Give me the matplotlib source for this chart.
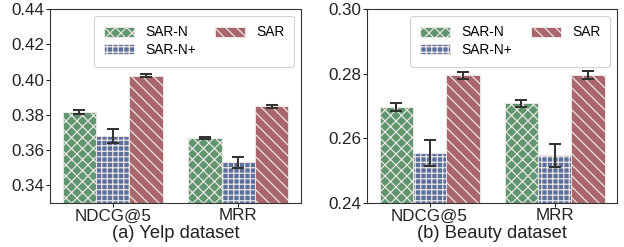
import numpy as np
import matplotlib
matplotlib.use("Agg")
import matplotlib.pyplot as plt

plt.rcParams["font.family"] = ["Liberation Sans", "DejaVu Sans"]
plt.rcParams["hatch.color"] = "white"
plt.rcParams["hatch.linewidth"] = 1.3

metrics = ["NDCG@5", "MRR"]
methods = ["SAR-N", "SAR-N+", "SAR"]

yelp_mean = {"SAR-N": [0.3815, 0.3668], "SAR-N+": [0.3680, 0.3530], "SAR": [0.4022, 0.3848]}
yelp_err = {"SAR-N": [0.0010, 0.0006], "SAR-N+": [0.0038, 0.0030], "SAR": [0.0009, 0.0010]}
beauty_mean = {"SAR-N": [0.2697, 0.2708], "SAR-N+": [0.2555, 0.2547], "SAR": [0.2795, 0.2796]}
beauty_err = {"SAR-N": [0.0012, 0.0012], "SAR-N+": [0.0040, 0.0035], "SAR": [0.0010, 0.0012]}

colors = {"SAR-N": "#5f966e", "SAR-N+": "#5b719b", "SAR": "#a9676b"}
hatches = {"SAR-N": "xx", "SAR-N+": "++", "SAR": "\\\\"}

dpi = 66
fig = plt.figure(figsize=(624 / dpi, 247 / dpi), dpi=dpi)
ax1 = fig.add_axes([50 / 624, 1 - 203 / 247, 251 / 624, 194 / 247])
ax2 = fig.add_axes([367 / 624, 1 - 203 / 247, 250 / 624, 194 / 247])


def draw(ax, means, errs, ylim, yticks, title):
    x = np.arange(len(metrics))
    w = 0.8 / 3
    for i, m in enumerate(methods):
        ax.bar(x + (i - 1) * w, means[m], w, yerr=errs[m], color=colors[m],
               edgecolor="#f0e8e8", linewidth=1.0, hatch=hatches[m], label=m,
               error_kw=dict(ecolor="#333333", elinewidth=2.2, capsize=7, capthick=2.2))
    ax.set_xlim(-0.5, 1.5)
    ax.set_ylim(*ylim)
    ax.set_yticks(yticks)
    ax.set_yticklabels(["%.2f" % t for t in yticks])
    ax.set_xticks(x)
    ax.set_xticklabels(metrics)
    ax.tick_params(labelsize=18.5, colors="#222222", length=4, width=1.2, pad=2)
    for s in ax.spines.values():
        s.set_color("#333333")
        s.set_linewidth(1.2)
    ax.set_xlabel(title, fontsize=20, color="#222222", labelpad=2)
    ax.legend(loc="upper right", ncol=2, fontsize=15, handlelength=2.2,
              handletextpad=0.8, columnspacing=1.4, labelspacing=0.25,
              borderpad=0.7, borderaxespad=0.5, edgecolor="#cccccc", framealpha=1)


draw(ax1, yelp_mean, yelp_err, (0.33, 0.44), [0.34, 0.36, 0.38, 0.40, 0.42, 0.44], "(a) Yelp dataset")
draw(ax2, beauty_mean, beauty_err, (0.24, 0.30), [0.24, 0.26, 0.28, 0.30], "(b) Beauty dataset")

fig.savefig("out.png", dpi=dpi)
